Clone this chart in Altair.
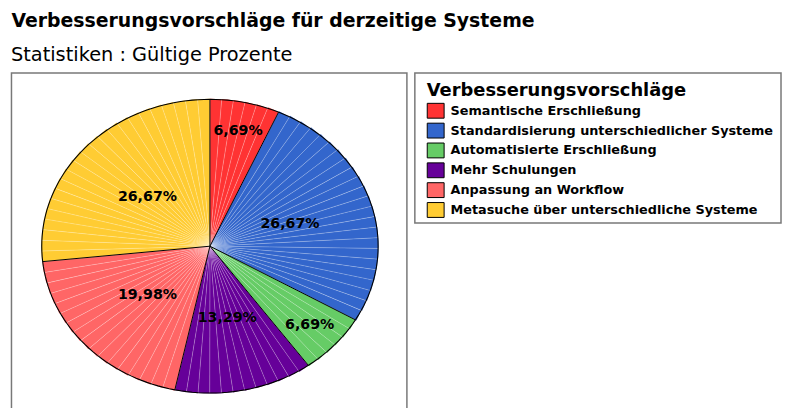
import altair as alt
import pandas as pd

# ---- data ----
categories = [
    "Semantische Erschließung",
    "Standardisierung unterschiedlicher Systeme",
    "Automatisierte Erschließung",
    "Mehr Schulungen",
    "Anpassung an Workflow",
    "Metasuche über unterschiedliche Systeme",
]
percentages = [6.69, 26.67, 6.69, 13.29, 19.98, 26.67]
colors = ["#FF3333", "#3366CC", "#66CC66", "#660099", "#FF6666", "#FFCC33"]

title_text = "Verbesserungsvorschläge für derzeitige Systeme"
subtitle_text = "Statistiken : Gültige Prozente"
legend_title = "Verbesserungsvorschläge"

# ---- layout constants (pixels) ----
W, H = 780, 400
CX, CY = 203.5, 238.5      # pie centre
A, B = 169.5, 148.0        # horizontal / vertical semi-axes of the (stretched) pie
STEP = 1.2                 # percent per thin sub-wedge
FRAME = "#787878"

df = pd.DataFrame({"cat": categories, "val": percentages, "ord": list(range(len(categories)))})

base = (
    alt.Chart(df)
    .transform_joinaggregate(total="sum(val)")
    .transform_window(cum="sum(val)", sort=[alt.SortField("ord")])
    .transform_calculate(
        f1="datum.cum / datum.total",
        f0="(datum.cum - datum.val) / datum.total",
    )
)

wedges = (
    base.transform_calculate(n=f"ceil(datum.val / {STEP})")
    .transform_calculate(k="sequence(0, datum.n)")
    .transform_flatten(["k"])
    .transform_calculate(
        p0="2*PI*(datum.f0 + (datum.f1 - datum.f0) * datum.k / datum.n)",
        p1="2*PI*(datum.f0 + (datum.f1 - datum.f0) * (datum.k + 1) / datum.n)",
    )
    .transform_calculate(
        a0=f"atan2({A}*sin(datum.p0), {B}*cos(datum.p0))",
        a1=f"atan2({A}*sin(datum.p1), {B}*cos(datum.p1))",
        pm="(datum.p0 + datum.p1) / 2",
    )
    .transform_calculate(
        s0="datum.a0 < 0 ? datum.a0 + 2*PI : datum.a0",
        s1raw="datum.a1 < 0 ? datum.a1 + 2*PI : datum.a1",
        r=f"sqrt(pow({A}*sin(datum.pm), 2) + pow({B}*cos(datum.pm), 2)) + 0.5",
    )
    .transform_calculate(s1="datum.s1raw <= datum.s0 ? datum.s1raw + 2*PI : datum.s1raw")
)

symbol_path = "M-1,-0.88L1,-0.88L1,0.88L-1,0.88Z"

arcs = wedges.mark_arc(stroke="white", strokeWidth=0.5, strokeOpacity=0.35).encode(
    theta=alt.Theta("s0:Q", scale=None, stack=False),
    theta2="s1:Q",
    radius=alt.Radius("r:Q", scale=None),
    x=alt.value(CX),
    y=alt.value(CY),
    color=alt.Color(
        "cat:N",
        scale=alt.Scale(domain=categories, range=colors),
        legend=alt.Legend(
            title=legend_title,
            orient="none",
            legendX=422,
            legendY=73,
            padding=0,
            titleFont="DejaVu Sans",
            titleFontSize=18,
            titleFontWeight="bold",
            titleColor="black",
            titlePadding=2,
            titleLimit=500,
            labelFont="DejaVu Sans",
            labelFontSize=12.9,
            labelFontWeight="bold",
            labelColor="black",
            labelLimit=500,
            labelOffset=6,
            symbolType=symbol_path,
            symbolSize=289,
            symbolStrokeColor="black",
            symbolStrokeWidth=1,
            symbolOpacity=1,
            rowPadding=0,
        ),
    ),
)

seps = (
    base.transform_calculate(p="2*PI*datum.f0")
    .transform_calculate(
        px=f"{CX} + {A}*sin(datum.p)",
        py=f"{CY} - {B}*cos(datum.p)",
    )
    .mark_rule(color="black", strokeWidth=1)
    .encode(
        x=alt.X("px:Q", scale=None),
        y=alt.Y("py:Q", scale=None),
        x2=alt.value(CX),
        y2=alt.value(CY),
    )
)

ring = (
    alt.Chart(alt.sequence(0, 361, 2, as_="deg"))
    .transform_calculate(
        px=f"{CX} + {A}*sin(datum.deg*PI/180)",
        py=f"{CY} - {B}*cos(datum.deg*PI/180)",
    )
    .mark_line(color="black", strokeWidth=1.1)
    .encode(
        x=alt.X("px:Q", scale=None),
        y=alt.Y("py:Q", scale=None),
        order=alt.Order("deg:Q"),
    )
)

labels = (
    base.transform_calculate(
        pm="PI*(datum.f0 + datum.f1)",
        fr="datum.val < 10 ? 0.8 : 0.5",
    )
    .transform_calculate(
        px=f"{CX} + datum.fr*{A}*sin(datum.pm)",
        py=f"{CY} - datum.fr*{B}*cos(datum.pm)",
        lab="replace(format(datum.val, '.2f'), '.', ',') + '%'",
    )
    .mark_text(font="DejaVu Sans", fontSize=14.3, fontWeight="bold", color="black", baseline="middle")
    .encode(x=alt.X("px:Q", scale=None), y=alt.Y("py:Q", scale=None), text="lab:N")
)

one = alt.Data(values=[{}])

pie_frame = alt.Chart(one).mark_rect(fill="white", stroke=FRAME, strokeWidth=1.5).encode(
    x=alt.value(3.5), x2=alt.value(402), y=alt.value(64), y2=alt.value(H + 6)
)
legend_frame = alt.Chart(one).mark_rect(fill="white", stroke=FRAME, strokeWidth=1.5).encode(
    x=alt.value(410), x2=alt.value(779), y=alt.value(64), y2=alt.value(215)
)

title = alt.Chart(one).mark_text(
    align="left", baseline="alphabetic", font="DejaVu Sans", fontSize=19, fontWeight="bold", color="black"
).encode(x=alt.value(3.5), y=alt.value(18), text=alt.value(title_text))

subtitle = alt.Chart(one).mark_text(
    align="left", baseline="alphabetic", font="DejaVu Sans", fontSize=19.5, color="black"
).encode(x=alt.value(3), y=alt.value(52), text=alt.value(subtitle_text))

chart = (
    alt.layer(pie_frame, legend_frame, arcs, seps, ring, labels, title, subtitle)
    .properties(
        width=W,
        height=H,
        autosize=alt.AutoSizeParams(type="none"),
        padding=0,
        background="white",
    )
    .configure_view(strokeOpacity=0)
)

chart.save("out.html", embed_options={"renderer": "svg", "actions": False})
